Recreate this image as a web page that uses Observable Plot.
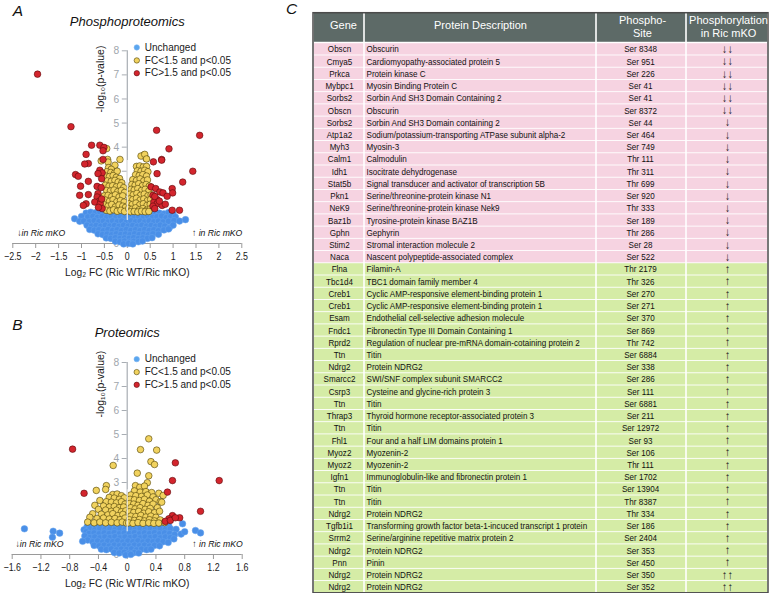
<!DOCTYPE html>
<html><head><meta charset="utf-8">
<script src="https://cdn.jsdelivr.net/npm/d3@7"></script>
<script src="https://cdn.jsdelivr.net/npm/@observablehq/plot@0.6"></script>
<style>
body{margin:0;background:#fff;}
#wrap{position:relative;width:770px;height:593px;overflow:hidden;font-family:"Liberation Sans",Arial,Helvetica,sans-serif;}
.panel{position:absolute;}
</style></head><body><div id="wrap">
<div id="pa" class="panel" style="left:0;top:0"></div>
<div id="pb" class="panel" style="left:0;top:300px"></div>
<div id="pc" class="panel" style="left:270px;top:0"></div>
</div>
<script>
// ---------- Panel A: phosphoproteomics volcano ----------
const aRed = [[-1.96,7.03],[-1.23,4.85],[-0.78,4.08],[-0.6,4.08],[-0.51,3.99],[-0.53,3.85],[-0.9,3.7],[-0.53,3.49],[-0.85,3.32],[-0.93,3.3],[-1.13,2.86],[-1.07,2.79],[-0.85,2.58],[-1.02,2.38],[-0.6,3.04],[-0.55,2.93],[-0.64,2.9],[-0.56,2.69],[-0.66,2.37],[-0.57,2.32],[-0.64,2.07],[-1.04,2.0],[-0.85,2.03],[-0.66,1.93],[-0.61,1.76],[-0.71,1.72],[-0.59,1.65],[-0.9,1.65],[-0.96,1.58],[-0.55,1.45],[-0.63,1.5],[-0.56,1.85],
[0.64,4.7],[1.58,4.49],[0.91,3.93],[0.75,3.49],[0.57,3.39],[0.75,3.46],[0.65,2.9],[1.43,3.0],[1.21,2.55],[0.52,2.35],[0.62,2.28],[0.71,2.14],[0.78,2.1],[0.98,2.28],[0.99,2.1],[0.87,1.96],[0.65,1.82],[0.58,1.72],[0.65,1.65],[0.76,1.58],[0.83,1.63],[0.98,1.38],[1.14,1.38],[0.56,2.0],[0.6,1.95],[0.56,1.55],[0.7,1.76],[0.6,1.45]];
const aYellow = [[-0.45,3.94],[-0.43,3.49],[-0.16,3.49],[-0.57,3.43],[-0.42,3.38],[-0.27,3.25],[-0.41,3.15],[-0.35,3.08],
[-0.45,2.98],[-0.36,2.95],[-0.28,2.92],[-0.22,3.0],[-0.47,2.8],[-0.39,2.78],[-0.31,2.82],[-0.24,2.75],[-0.17,2.7],
[-0.44,2.6],[-0.35,2.58],[-0.27,2.62],[-0.2,2.55],[-0.12,2.52],[-0.48,2.42],[-0.4,2.38],[-0.32,2.4],[-0.24,2.35],[-0.15,2.4],[-0.08,2.32],
[-0.45,2.2],[-0.37,2.18],[-0.29,2.22],[-0.21,2.15],[-0.13,2.2],[-0.06,2.12],[-0.5,1.98],[-0.42,2.0],[-0.34,1.95],[-0.26,2.02],[-0.18,1.93],[-0.1,1.98],
[-0.47,1.8],[-0.39,1.75],[-0.31,1.82],[-0.23,1.73],[-0.15,1.78],[-0.07,1.72],[-0.5,1.6],[-0.42,1.55],[-0.34,1.62],[-0.26,1.52],[-0.18,1.6],[-0.1,1.55],[-0.04,1.5],
[-0.46,1.38],[-0.38,1.35],[-0.3,1.4],[-0.22,1.34],[-0.14,1.38],[-0.06,1.33],
[0.36,3.67],[0.41,3.53],[0.3,3.63],[0.38,3.7],[0.42,3.51],[0.2,3.2],[0.27,3.22],[0.35,3.18],[0.42,3.2],
[0.22,3.02],[0.3,3.0],[0.38,3.04],[0.45,2.98],[0.18,2.85],[0.26,2.82],[0.34,2.86],[0.42,2.8],
[0.12,2.65],[0.2,2.62],[0.28,2.68],[0.36,2.6],[0.44,2.64],[0.1,2.45],[0.17,2.42],[0.25,2.48],[0.33,2.4],[0.41,2.45],[0.48,2.38],
[0.08,2.25],[0.15,2.22],[0.23,2.28],[0.31,2.2],[0.39,2.25],[0.47,2.18],[0.06,2.05],[0.13,2.02],[0.21,2.08],[0.29,2.0],[0.37,2.05],[0.45,1.98],[0.52,2.02],
[0.05,1.85],[0.12,1.82],[0.2,1.88],[0.28,1.8],[0.36,1.85],[0.44,1.78],[0.51,1.83],[0.04,1.65],[0.11,1.62],[0.19,1.68],[0.27,1.6],[0.35,1.65],[0.43,1.58],[0.5,1.63],
[0.03,1.45],[0.1,1.42],[0.18,1.48],[0.26,1.4],[0.34,1.45],[0.42,1.38],[0.5,1.44],[0.07,1.32],[0.15,1.33],[0.23,1.31],[0.31,1.34],[0.39,1.32],[0.47,1.33]];
const aBlue = [[-0.9,1.26],[-0.8,1.3],[-0.7,1.27],[-0.6,1.31],[-0.5,1.25],[-0.4,1.29],[-0.3,1.26],[-0.2,1.3],[-0.1,1.27],[0.0,1.24],[0.1,1.29],[0.2,1.26],[0.3,1.3],[0.4,1.27],[0.5,1.25],[0.6,1.29],[0.7,1.26],[0.8,1.23],[0.9,1.28],[1.0,1.22],
[-1.0,1.12],[-0.86,1.1],[-0.75,1.13],[-0.65,1.08],[-0.55,1.12],[-0.45,1.09],[-0.35,1.13],[-0.25,1.08],[-0.15,1.12],[-0.05,1.1],[0.05,1.13],[0.15,1.08],[0.25,1.12],[0.35,1.09],[0.45,1.13],[0.55,1.08],[0.65,1.11],[0.75,1.14],[0.85,1.07],[0.95,1.12],[1.05,1.1],
[-1.15,1.03],[-1.04,0.92],[-0.95,0.93],[-0.83,0.9],[-0.72,0.95],[-0.62,0.9],[-0.52,0.93],[-0.42,0.89],[-0.32,0.94],[-0.22,0.9],[-0.12,0.93],[-0.02,0.89],[0.08,0.94],[0.18,0.9],[0.28,0.93],[0.38,0.89],[0.48,0.94],[0.58,0.9],[0.68,0.93],[0.78,0.89],[0.9,0.92],[1.02,0.95],[1.14,0.93],[1.27,0.99],
[-0.88,0.76],[-0.78,0.72],[-0.68,0.75],[-0.58,0.71],[-0.48,0.76],[-0.38,0.72],[-0.28,0.75],[-0.18,0.71],[-0.08,0.76],[0.02,0.72],[0.12,0.75],[0.22,0.71],[0.32,0.76],[0.42,0.72],[0.52,0.75],[0.62,0.71],[0.72,0.76],[0.82,0.72],[0.92,0.66],[1.0,0.76],
[-0.82,0.58],[-0.72,0.55],[-0.62,0.57],[-0.52,0.53],[-0.42,0.58],[-0.32,0.54],[-0.22,0.57],[-0.12,0.53],[-0.02,0.58],[0.08,0.54],[0.18,0.57],[0.28,0.53],[0.38,0.58],[0.48,0.54],[0.58,0.57],[0.68,0.53],[0.8,0.56],[0.9,0.6],
[-0.64,0.4],[-0.54,0.37],[-0.44,0.39],[-0.34,0.36],[-0.24,0.4],[-0.14,0.37],[-0.04,0.39],[0.06,0.36],[0.16,0.4],[0.26,0.37],[0.36,0.39],[0.46,0.36],[0.56,0.4],[0.68,0.38],
[-0.46,0.23],[-0.36,0.21],[-0.26,0.24],[-0.16,0.2],[-0.06,0.23],[0.04,0.21],[0.14,0.24],[0.24,0.2],[0.34,0.23],[0.44,0.21],[0.54,0.24],
[-0.26,0.09],[-0.16,0.07],[-0.06,0.1],[0.04,0.06],[0.14,0.09],[0.24,0.07],[0.33,0.1],[-0.08,-0.02],[0.03,0.0],[0.12,-0.02]];
const aXTicks = [-2.5,-2,-1.5,-1,-0.5,0,0.5,1,1.5,2,2.5];

// ---------- Panel B: proteomics volcano ----------
const bRed = [[-0.76,4.39],[0.67,3.82],[0.63,3.08],[1.28,3.08],[-0.6,2.55],[0.56,2.6],[1.02,1.8],[0.63,1.62],[0.73,1.53],[0.58,1.49],[0.53,1.38],[0.6,1.42],[0.67,1.53]];
const bYellow = [[0.3,4.82],[0.185,4.37],[0.41,4.35],[0.33,3.87],[0.38,3.75],[-0.195,3.71],[0.14,3.39],[0.3,3.28],[0.28,2.99],[0.115,2.87],[0.175,2.8],[0.24,2.85],[-0.29,2.87],[-0.3,2.71],[-0.43,2.67],
[-0.2,2.5],[-0.14,2.52],[-0.08,2.45],[-0.25,2.38],[-0.18,2.35],[-0.11,2.3],[-0.04,2.36],[-0.38,2.25],[-0.29,2.2],[-0.22,2.18],[-0.15,2.15],[-0.08,2.2],[-0.03,2.1],
[-0.45,2.05],[-0.33,2.02],[-0.25,1.98],[-0.18,2.0],[-0.11,1.95],[-0.05,1.98],[-0.4,1.88],[-0.3,1.85],[-0.22,1.8],[-0.15,1.85],[-0.08,1.78],[-0.02,1.82],
[-0.48,1.7],[-0.36,1.68],[-0.27,1.65],[-0.2,1.7],[-0.13,1.62],[-0.06,1.67],[-0.52,1.55],[-0.42,1.5],[-0.33,1.52],[-0.25,1.48],[-0.17,1.5],[-0.1,1.45],[-0.03,1.52],
[-0.55,1.35],[-0.46,1.32],[-0.38,1.35],[-0.3,1.32],[-0.22,1.34],[-0.14,1.32],[-0.07,1.35],[-0.01,1.31],
[0.1,2.65],[0.18,2.6],[0.26,2.62],[0.34,2.58],[0.44,2.55],[0.05,2.48],[0.12,2.45],[0.2,2.42],[0.28,2.48],[0.36,2.4],[0.5,2.46],
[0.04,2.3],[0.1,2.28],[0.17,2.25],[0.24,2.3],[0.31,2.22],[0.4,2.28],[0.46,2.2],[0.03,2.12],[0.09,2.1],[0.15,2.05],[0.22,2.12],[0.29,2.05],[0.36,2.1],[0.48,2.18],
[0.05,1.95],[0.11,1.9],[0.18,1.95],[0.25,1.88],[0.32,1.92],[0.42,1.95],[0.03,1.78],[0.09,1.75],[0.16,1.8],[0.23,1.72],[0.3,1.78],[0.38,1.74],[0.45,1.8],
[0.05,1.6],[0.12,1.58],[0.19,1.63],[0.26,1.56],[0.33,1.6],[0.4,1.55],[0.03,1.45],[0.1,1.42],[0.17,1.46],[0.24,1.4],[0.31,1.45],[0.38,1.4],[0.46,1.44],
[0.02,1.32],[0.08,1.3],[0.15,1.33],[0.22,1.3],[0.3,1.32],[0.37,1.3],[0.44,1.31],[0.52,1.33]];
const bBlue = [[-1.43,1.07],[-1.03,0.97],[-0.94,0.89],[-1.04,0.72],[0.77,1.28],[0.95,1.0],[1.02,0.9],
[-0.54,1.2],[-0.47,1.24],[-0.4,1.21],[-0.33,1.25],[-0.26,1.2],[-0.19,1.23],[-0.12,1.19],[-0.05,1.24],[0.02,1.2],[0.09,1.23],[0.16,1.19],[0.23,1.24],[0.3,1.2],[0.37,1.23],[0.44,1.19],[0.51,1.22],[0.58,1.18],
[-0.56,1.14],[-0.6,1.03],[-0.52,1.07],[-0.45,1.03],[-0.38,1.08],[-0.31,1.04],[-0.24,1.07],[-0.17,1.03],[-0.1,1.08],[-0.03,1.04],[0.04,1.07],[0.11,1.03],[0.18,1.08],[0.25,1.04],[0.32,1.07],[0.39,1.03],[0.46,1.08],[0.53,1.04],[0.6,1.07],[0.68,1.05],
[-0.57,0.95],[-0.53,0.87],[-0.46,0.9],[-0.39,0.86],[-0.32,0.9],[-0.25,0.87],[-0.18,0.91],[-0.11,0.86],[-0.04,0.9],[0.03,0.87],[0.1,0.91],[0.17,0.86],[0.24,0.9],[0.31,0.87],[0.38,0.91],[0.45,0.86],[0.52,0.9],[0.59,0.87],[0.66,0.83],[0.75,0.85],[0.8,0.95],
[-0.59,0.77],[-0.52,0.7],[-0.45,0.73],[-0.38,0.69],[-0.31,0.73],[-0.24,0.7],[-0.17,0.74],[-0.1,0.69],[-0.03,0.73],[0.04,0.7],[0.11,0.74],[0.18,0.69],[0.25,0.73],[0.32,0.7],[0.39,0.74],[0.46,0.69],[0.53,0.73],[0.6,0.7],
[-0.55,0.6],[-0.62,0.55],[-0.48,0.53],[-0.41,0.56],[-0.34,0.52],[-0.27,0.56],[-0.2,0.53],[-0.13,0.57],[-0.06,0.52],[0.01,0.56],[0.08,0.53],[0.15,0.57],[0.22,0.52],[0.29,0.56],[0.36,0.53],[0.43,0.57],[0.5,0.53],[0.57,0.5],[0.65,0.65],
[-0.46,0.38],[-0.39,0.36],[-0.32,0.39],[-0.25,0.35],[-0.18,0.39],[-0.11,0.36],[-0.04,0.39],[0.03,0.35],[0.1,0.39],[0.17,0.36],[0.24,0.39],[0.31,0.35],[0.38,0.38],[0.45,0.36],
[-0.36,0.22],[-0.29,0.2],[-0.22,0.23],[-0.15,0.19],[-0.08,0.22],[-0.01,0.2],[0.06,0.23],[0.13,0.19],[0.2,0.22],[0.27,0.2],[0.33,0.22],
[-0.18,0.08],[-0.11,0.06],[-0.04,0.09],[0.03,0.05],[0.1,0.08],[0.16,0.06],[-0.02,-0.02],[0.05,0.0]];
const bXTicks = [-1.6,-1.2,-0.8,-0.4,0,0.4,0.8,1.2,1.6];

const yTicks = [0,1,2,3,4,5,6,7,8];
const legendLabels = ["Unchanged","FC<1.5 and p<0.05","FC>1.5 and p<0.05"];

// ---------- Panel C: table ----------
const headers = ["Gene","Protein Description","Phospho-\nSite","Phosphorylation\nin Ric mKO"];
const genes = ["Obscn","Cmya5","Prkca","Mybpc1","Sorbs2","Obscn","Sorbs2","Atp1a2","Myh3","Calm1","Idh1","Stat5b","Pkn1","NeK9","Baz1b","Gphn","Stim2","Naca","Flna","Tbc1d4","Creb1","Creb1","Esam","Fndc1","Rprd2","Ttn","Ndrg2","Smarcc2","Csrp3","Ttn","Thrap3","Ttn","Fhl1","Myoz2","Myoz2","Igfn1","Ttn","Ttn","Ndrg2","Tgfb1i1","Srrm2","Ndrg2","Pnn","Ndrg2","Ndrg2"];
const descriptions = ["Obscurin","Cardiomyopathy-associated protein 5","Protein kinase C","Myosin Binding Protein C","Sorbin And SH3 Domain Containing 2","Obscurin","Sorbin And SH3 Domain containing 2","Sodium/potassium-transporting ATPase subunit alpha-2","Myosin-3","Calmodulin","Isocitrate dehydrogenase","Signal transducer and activator of transcription 5B","Serine/threonine-protein kinase N1","Serine/threonine-protein kinase Nek9","Tyrosine-protein kinase BAZ1B","Gephyrin","Stromal interaction molecule 2","Nascent polypeptide-associated complex","Filamin-A","TBC1 domain family member 4","Cyclic AMP-responsive element-binding protein 1","Cyclic AMP-responsive element-binding protein 1","Endothelial cell-selective adhesion molecule","Fibronectin Type III Domain Containing 1","Regulation of nuclear pre-mRNA domain-cotaining protein 2","Titin","Protein NDRG2","SWI/SNF complex subunit SMARCC2","Cysteine and glycine-rich protein 3","Titin","Thyroid hormone receptor-associated protein 3","Titin","Four and a half LIM domains protein 1","Myozenin-2","Myozenin-2","Immunoglobulin-like and fibronectin protein 1","Titin","Titin","Protein NDRG2","Transforming growth factor beta-1-incuced transcript 1 protein","Serine/arginine repetitive matrix protein 2","Protein NDRG2","Pinin","Protein NDRG2","Protein NDRG2"];
const sites = ["Ser 8348","Ser 951","Ser 226","Ser 41","Ser 41","Ser 8372","Ser 44","Ser 464","Ser 749","Thr 111","Thr 311","Thr 699","Ser 920","Thr 333","Ser 189","Thr 286","Ser 28","Ser 522","Thr 2179","Thr 326","Ser 270","Ser 271","Ser 370","Ser 869","Thr 742","Ser 6884","Ser 338","Ser 286","Ser 111","Ser 6881","Ser 211","Ser 12972","Ser 93","Ser 106","Thr 111","Ser 1702","Ser 13904","Thr 8387","Thr 334","Ser 186","Ser 2404","Ser 353","Ser 450","Ser 350","Ser 352"];
const arrows = ["↓↓","↓↓","↓↓","↓↓","↓↓","↓↓","↓","↓","↓","↓","↓","↓","↓","↓","↓","↓","↓","↓","↑","↑","↑","↑","↑","↑","↑","↑","↑","↑","↑","↑","↑","↑","↑","↑","↑","↑","↑","↑","↑","↑","↑","↑","↑","↑↑","↑↑"];

// ---------- styling ----------
const FONT = "Liberation Sans, Arial, Helvetica, sans-serif";
const C_BLUE = "#4a8fe7", C_BLUE_S = "#66a4ef";
const C_YEL = "#f1d25e", C_YEL_S = "#4d3f05";
const C_RED = "#d3252d", C_RED_S = "#5c0b0e";
const AXIS = "#a8adb3";

// horizontally condense the text of the groups that carry a given font-size
function squeeze(root, size, f) {
  root.querySelectorAll(`g[font-size="${size}"] text`).forEach(t => {
    const L = t.getComputedTextLength();
    if (L > 0) { t.setAttribute("textLength", (L * f).toFixed(2)); t.setAttribute("lengthAdjust", "spacingAndGlyphs"); }
  });
}

function volcano(o) {
  const pxPerX = (o.xr[1] - o.xr[0]) / (o.xd[1] - o.xd[0]);
  const pxPerY = (o.yr[0] - o.yr[1]) / 8;
  const tickX = 5 / pxPerX, tickY = 5 / pxPerY;
  const fmt = d => d < 0 ? "\u2212" + Math.abs(d) : String(d);
  const legY = [8.14, 7.6, 7.07];
  const legFill = ["#5aa6ef", C_YEL, C_RED], legStroke = ["#7db6f2", C_YEL_S, C_RED_S];
  return Plot.plot({
    width: o.width, height: o.height,
    marginLeft: o.xr[0], marginRight: o.width - o.xr[1], marginTop: o.yr[1], marginBottom: o.height - o.yr[0],
    x: {domain: o.xd, range: o.xr, axis: null},
    y: {domain: [0, 8], range: o.yr, axis: null},
    style: {background: "transparent", overflow: "visible", fontFamily: FONT},
    marks: [
      Plot.ruleX([0], {y1: () => 0, y2: () => 8, stroke: AXIS, strokeWidth: 1.2}),
      Plot.ruleY(yTicks, {y: d => d, x1: () => 0, x2: () => -tickX, stroke: AXIS}),
      Plot.text(yTicks, {x: () => 0, y: d => d, dx: -8, textAnchor: "end", fill: "#a0a6ac", fontSize: 11}),
      Plot.ruleY([0], {x1: () => o.xd[0], x2: () => o.xd[1], stroke: "#9a9a9a"}),
      Plot.ruleX(o.xticks, {x: d => d, y1: () => 0, y2: () => -tickY, stroke: "#9a9a9a"}),
      Plot.text(o.xticks, {x: d => d, y: () => 0, dy: 13, text: fmt, fontSize: 10.4, fill: "#1a1a1a"}),
      Plot.dot(o.blue, {x: d => d[0], y: d => d[1], r: 3.3, fill: C_BLUE, stroke: C_BLUE_S, strokeWidth: 0.5}),
      Plot.dot(o.yellow, {x: d => d[0], y: d => d[1], r: 3.3, fill: C_YEL, stroke: C_YEL_S, strokeWidth: 0.6}),
      Plot.dot(o.red, {x: d => d[0], y: d => d[1], r: 3.3, fill: C_RED, stroke: C_RED_S, strokeWidth: 0.6}),
      Plot.ruleX([0], {y1: () => 0.95, y2: () => o.whiteTop, stroke: "#eeeeee", strokeWidth: 1.1}),
      Plot.text(["\u2193in Ric mKO"], {x: () => o.xd[0], y: () => 0.42, dx: o.annDx, textAnchor: "start", fontStyle: "italic", fontSize: 9.6, fill: "#111"}),
      Plot.text(["\u2191 in Ric mKO"], {x: () => o.xd[1], y: () => 0.42, dx: 0.5, textAnchor: "end", fontStyle: "italic", fontSize: 9.6, fill: "#111"}),
      Plot.dot(legendLabels, {x: () => 0, y: (d, i) => legY[i], dx: 9.5, r: 2.7, fill: (d, i) => legFill[i], stroke: (d, i) => legStroke[i], strokeWidth: 0.6}),
      Plot.text(legendLabels, {x: () => 0, y: (d, i) => legY[i], dx: 17.5, textAnchor: "start", fontSize: 10, fill: "#1a1a1a"}),
      Plot.text(["-log\u2081\u2080(p-value)"], {x: () => 0, y: () => o.ylabY, dx: -27, rotate: -90, fontSize: 10.5, fill: "#1a1a1a"}),
      Plot.text(["Log\u2082 FC (Ric WT/Ric mKO)"], {x: () => 0, y: () => 0, dy: 29, fontSize: 11, fill: "#1a1a1a"}),
      Plot.text([o.title], {frameAnchor: "top", lineAnchor: "middle", dy: o.titleDy, fontStyle: "italic", fontSize: 13, fill: "#111"}),
      Plot.text([o.letter], {frameAnchor: "top-left", lineAnchor: "middle", dx: 0, dy: o.letterDy, textAnchor: "start", fontStyle: "italic", fontSize: 15.5, fill: "#111"})
    ]
  });
}

const A = volcano({width: 260, height: 290, xd: [-2.5, 2.5], xr: [12.3, 241.3], yr: [243, 50.3], xticks: aXTicks,
  blue: aBlue, yellow: aYellow, red: aRed, whiteTop: 3.45, ylabY: 6.83, title: "Phosphoproteomics", titleDy: -29.3, letter: "A", letterDy: -39.5, annDx: 4.5});
const B = volcano({width: 260, height: 293, xd: [-1.6, 1.6], xr: [11.7, 241.7], yr: [254, 62], xticks: bXTicks,
  blue: bBlue, yellow: bYellow, red: bRed, whiteTop: 2.7, ylabY: 7.1, title: "Proteomics", titleDy: -30, letter: "B", letterDy: -37.5, annDx: 3.3});
document.getElementById("pa").appendChild(A);
document.getElementById("pb").appendChild(B);
for (const s of [A, B]) { squeeze(s, "10.4", 0.85); squeeze(s, "9.6", 0.9); squeeze(s, "11", 0.93); }

// ---------- table plot ----------
const colEdges = [313, 364, 596, 686, 768];
const HEAD_TOP = -2.46;
const rows = genes.map((g, i) => ({i, gene: g, desc: descriptions[i], site: sites[i], arrow: arrows[i], up: arrows[i].includes("\u2191")}));
const cells = rows.flatMap(r => [0, 1, 2, 3].map(c => ({r: r.i, c, up: r.up})));
const headCells = headers.map((h, c) => ({c, h}));
const headLines = headers.flatMap((h, c) => {
  const parts = h.split("\n");
  const cx = [343, 480, 642, 728][c];
  return parts.length === 1 ? [{x: cx, y: -1.48, t: parts[0]}] : [{x: cx, y: -1.89, t: parts[0]}, {x: cx, y: -0.775, t: parts[1]}];
});

const T = Plot.plot({
  width: 500, height: 593, marginLeft: 43, marginRight: 2, marginTop: 12.7, marginBottom: 0.2,
  x: {domain: [313, 768], range: [43, 498], axis: null},
  y: {domain: [HEAD_TOP, 45], range: [12.7, 592.8], axis: null},
  style: {background: "transparent", overflow: "visible", fontFamily: FONT},
  marks: [
    Plot.rect(headCells, {x1: d => colEdges[d.c], x2: d => colEdges[d.c + 1], y1: () => HEAD_TOP, y2: () => 0, fill: "#5d6a67", insetLeft: 0.8, insetRight: 0.8, insetBottom: 1}),
    Plot.rect(cells, {x1: d => colEdges[d.c], x2: d => colEdges[d.c + 1], y1: d => d.r, y2: d => d.r + 1, fill: d => d.up ? "#d5eca6" : "#f6d3e1", insetLeft: 0.8, insetRight: 0.8, insetTop: 0.45, insetBottom: 0.45}),
    Plot.rect([0], {x1: () => colEdges[0], x2: () => colEdges[4], y1: () => HEAD_TOP, y2: () => 45, fill: "none", stroke: "#4b4b4b", strokeWidth: 1.5}),
    Plot.text(headLines, {x: "x", y: "y", text: "t", fill: "#fff", fontSize: 11}),
    Plot.text(rows, {x: () => 339, y: d => d.i + 0.5, text: "gene", fontSize: 9.4, fill: "#111"}),
    Plot.text(rows, {x: () => 366, y: d => d.i + 0.5, text: "desc", textAnchor: "start", fontSize: 9.4, fill: "#111"}),
    Plot.text(rows, {x: () => 640, y: d => d.i + 0.5, text: "site", fontSize: 9.4, fill: "#111"}),
    Plot.text(rows, {x: () => 727, y: d => d.i + 0.5, text: "arrow", fontSize: 11.5, fill: "#222"}),
    Plot.text(["C"], {x: () => colEdges[0], y: () => HEAD_TOP, dx: -22, dy: -4, fontStyle: "italic", fontSize: 15.5, fill: "#111"})
  ]
});
document.getElementById("pc").appendChild(T);
squeeze(T, "9.4", 0.86);
</script>
</body></html>
